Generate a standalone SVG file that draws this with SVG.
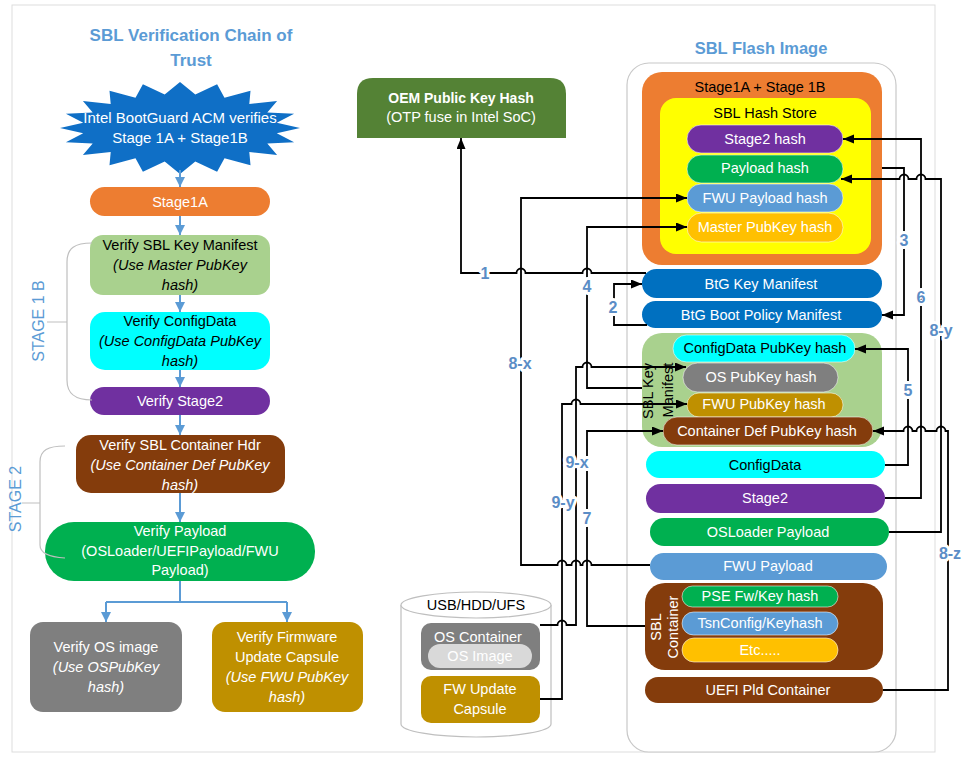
<svg xmlns="http://www.w3.org/2000/svg" width="964" height="767" viewBox="0 0 964 767">
<style>
text{font-family:"Liberation Sans",Arial,sans-serif;font-size:14.5px;text-anchor:middle;dominant-baseline:central}
.w{fill:#fff}.k{fill:#000}.i{font-style:italic}
.title{font-weight:bold;font-size:17px;fill:#5B9BD5}
.stg{font-size:16px;fill:#5B9BD5}
.lbl{font-weight:bold;font-size:16px;fill:#5B8DC6;stroke:#fff;stroke-width:6px;paint-order:stroke;stroke-linejoin:round}
.cn{fill:none;stroke:#000;stroke-width:1.8}
.bl{fill:none;stroke:#5B9BD5;stroke-width:2}
.br{fill:none;stroke:#BFBFBF;stroke-width:1.2}
.pl{stroke:#fff;stroke-opacity:.55;stroke-width:1}
</style>
<defs>
<marker id="ah" markerUnits="userSpaceOnUse" markerWidth="12" markerHeight="10" refX="11" refY="4.5" orient="auto"><path d="M0,0 L11,4.5 L0,9 z" fill="#000"/></marker>
<marker id="bh" markerUnits="userSpaceOnUse" markerWidth="11" markerHeight="10" refX="10" refY="5" orient="auto"><path d="M0,0 L10,5 L0,10 z" fill="#5B9BD5"/></marker>
</defs>
<rect x="0" y="0" width="964" height="767" fill="#fff"/>
<rect x="12" y="5" width="923" height="747" fill="none" stroke="#DDDDDD" stroke-width="1"/>

<!-- Left column -->
<g id="title-left"><text class="title" x="191" y="35">SBL Verification Chain of</text><text class="title" x="191" y="60">Trust</text></g>
<g id="bootguard">
<polygon fill="#0F6FC6" points="300,128 276.8,122.7 294.1,113.8 267.3,112.6 277.1,101 249.3,104 250.5,90.8 224.5,97.7 217.1,84.2 195.3,94.4 180,82 164.7,94.4 142.9,84.2 135.5,97.7 109.5,90.8 110.7,104 82.9,101 92.7,112.6 65.9,113.8 83.2,122.7 60,128 83.2,133.3 65.9,142.2 92.7,143.4 82.9,155 110.7,152 109.5,165.2 135.5,158.3 142.9,171.8 164.7,161.6 180,174 195.3,161.6 217.1,171.8 224.5,158.3 250.5,165.2 249.3,152 277.1,155 267.3,143.4 294.1,142.2 276.8,133.3"/>
<text class="w" x="180" y="117" style="font-size:15px">Intel BootGuard ACM verifies</text>
<text class="w" x="180" y="137" style="font-size:15px">Stage 1A + Stage1B</text>
</g>
<g id="l-stage1a"><rect x="90" y="187" width="180" height="29" rx="14.5" fill="#ED7D31"/><text class="w" x="180" y="202">Stage1A</text></g>
<g id="l-keymanifest"><rect x="90" y="235" width="180" height="60" rx="13" fill="#A9D18E"/><text class="k" x="180" y="245">Verify SBL Key Manifest</text><text class="k i" x="180" y="265">(Use Master PubKey</text><text class="k i" x="180" y="285">hash)</text></g>
<g id="l-configdata"><rect x="90" y="312" width="180" height="58" rx="15" fill="#00FFFF"/><text class="k" x="180" y="321">Verify ConfigData</text><text class="k i" x="180" y="341">(Use ConfigData PubKey</text><text class="k i" x="180" y="361">hash)</text></g>
<g id="l-stage2"><rect x="90" y="387" width="180" height="28" rx="14" fill="#7030A0"/><text class="w" x="180" y="401">Verify Stage2</text></g>
<g id="l-container"><rect x="76" y="435" width="209" height="58" rx="15" fill="#843C0C"/><text class="w" x="180" y="445">Verify SBL Container Hdr</text><text class="w i" x="180" y="465">(Use Container Def PubKey</text><text class="w i" x="180" y="485">hash)</text></g>
<g id="l-payload"><rect x="45" y="522" width="270" height="59" rx="29" fill="#00B050"/><text class="w" x="180" y="531">Verify Payload</text><text class="w" x="180" y="551">(OSLoader/UEFIPayload/FWU</text><text class="w" x="180" y="570">Payload)</text></g>
<g id="l-osimage"><rect x="30" y="622" width="152" height="90" rx="13" fill="#7F7F7F"/><text class="w" x="106" y="647">Verify OS image</text><text class="w i" x="106" y="667">(Use OSPubKey</text><text class="w i" x="106" y="687">hash)</text></g>
<g id="l-fwcapsule"><rect x="212" y="622" width="151" height="90" rx="13" fill="#BF9000"/><text class="w" x="287" y="637">Verify Firmware</text><text class="w" x="287" y="657">Update Capsule</text><text class="w i" x="287" y="677">(Use FWU PubKey</text><text class="w i" x="287" y="697">hash)</text></g>
<g id="stage1b-bracket"><path class="br" d="M92,243 C75,243 67,248 67,262 L67,380 C67,394 75,400 92,400 M47,322 L67,322"/><text class="stg" transform="translate(38,321) rotate(-90)">STAGE 1 B</text></g>
<g id="stage2-bracket"><path class="br" d="M65,446 C48,446 40,450 40,462 L40,545 C40,553 48,557 65,558 M22,503 L40,503"/><text class="stg" transform="translate(15,499) rotate(-90)">STAGE 2</text></g>

<!-- Middle -->
<g id="oem-hash"><path d="M357,138 L357,94 Q357,78 373,78 L550,78 Q566,78 566,94 L566,138 Z" fill="#548235"/><text class="w" x="461" y="98" style="font-weight:bold;font-size:14px">OEM Public Key Hash</text><text class="w" x="461" y="117">(OTP fuse in Intel SoC)</text></g>
<g id="storage"><path d="M401,605 L401,724 A75,13 0 0 0 551,724 L551,605" fill="#fff" stroke="#BFBFBF" stroke-width="1.2"/><ellipse cx="476" cy="605" rx="75" ry="13" fill="#fff" stroke="#BFBFBF" stroke-width="1.2"/><text class="k" x="476" y="605">USB/HDD/UFS</text></g>
<g id="os-container"><rect x="421" y="623" width="119" height="47" rx="10" fill="#7F7F7F"/><text class="w" x="478" y="637">OS Container</text><rect x="428" y="644" width="104" height="24" rx="12" fill="#D9D9D9"/><text class="w" x="480" y="656">OS Image</text></g>
<g id="fw-capsule"><rect x="421" y="676" width="119" height="47" rx="10" fill="#BF9000"/><text class="w" x="480" y="689">FW Update</text><text class="w" x="480" y="709">Capsule</text></g>

<!-- Flash image -->
<g id="flash-image"><text class="title" style="font-size:16.5px" x="761" y="48">SBL Flash Image</text><rect x="627" y="63" width="269" height="689" rx="22" fill="#fff" stroke="#C8C8C8" stroke-width="1.2"/></g>
<g id="stage1ab"><rect x="642" y="72" width="240" height="193" rx="20" fill="#ED7D31"/><text class="k" x="760" y="87">Stage1A + Stage 1B</text></g>
<g id="hash-store"><rect x="660" y="98" width="211" height="156" rx="16" fill="#FFFF00"/><text class="k" x="765" y="113">SBL Hash Store</text></g>
<g id="stage2-hash"><rect class="pl" x="687" y="125" width="156" height="28" rx="14" fill="#7030A0"/><text class="w" x="765" y="139">Stage2 hash</text></g>
<g id="payload-hash"><rect class="pl" x="687" y="155" width="156" height="28" rx="14" fill="#00B050"/><text class="w" x="765" y="168">Payload hash</text></g>
<g id="fwu-payload-hash"><rect class="pl" x="687" y="184" width="156" height="28" rx="14" fill="#5B9BD5"/><text class="w" x="765" y="198">FWU Payload hash</text></g>
<g id="master-pubkey-hash"><rect class="pl" x="687" y="213" width="156" height="29" rx="14.5" fill="#FFC000"/><text class="w" x="765" y="227">Master PubKey hash</text></g>
<g id="btg-key-manifest"><rect x="642" y="269" width="240" height="29" rx="14.5" fill="#0070C0"/><text class="w" x="761" y="284">BtG Key Manifest</text></g>
<g id="btg-boot-policy"><rect x="642" y="301" width="240" height="27" rx="13.5" fill="#0070C0"/><text class="w" x="761" y="315">BtG Boot Policy Manifest</text></g>
<g id="sbl-key-manifest"><rect x="642" y="333" width="240" height="114" rx="20" fill="#A9D18E"/><text class="k" transform="translate(648,391) rotate(-90)">SBL Key</text><text class="k" transform="translate(668,390) rotate(-90)">Manifest</text></g>
<g id="configdata-pubkey-hash"><rect class="pl" x="673" y="335" width="182" height="27" rx="13.5" fill="#00FFFF"/><text class="k" x="765" y="348">ConfigData PubKey hash</text></g>
<g id="os-pubkey-hash"><rect class="pl" x="683" y="363" width="155" height="29" rx="14.5" fill="#7F7F7F"/><text class="w" x="761" y="377">OS PubKey hash</text></g>
<g id="fwu-pubkey-hash"><rect class="pl" x="687" y="393" width="156" height="24" rx="12" fill="#BF9000"/><text class="w" x="764" y="404">FWU PubKey hash</text></g>
<g id="container-def-pubkey-hash"><rect class="pl" x="663" y="417" width="210" height="28" rx="14" fill="#843C0C"/><text class="w" x="767" y="431">Container Def PubKey hash</text></g>
<g id="configdata"><rect x="646" y="451" width="239" height="27" rx="13.5" fill="#00FFFF"/><text class="k" x="765" y="465">ConfigData</text></g>
<g id="stage2"><rect x="646" y="484" width="239" height="29" rx="14.5" fill="#7030A0"/><text class="w" x="765" y="498">Stage2</text></g>
<g id="osloader-payload"><rect x="650" y="518" width="239" height="28" rx="14" fill="#00B050"/><text class="w" x="768" y="532">OSLoader Payload</text></g>
<g id="fwu-payload"><rect x="650" y="553" width="237" height="27" rx="13.5" fill="#5B9BD5"/><text class="w" x="768" y="566">FWU Payload</text></g>
<g id="sbl-container"><rect x="645" y="583" width="238" height="87" rx="20" fill="#843C0C"/><text class="w" transform="translate(656,627) rotate(-90)">SBL</text><text class="w" transform="translate(673,627) rotate(-90)">Container</text></g>
<g id="pse-hash"><rect class="pl" x="682" y="586" width="156" height="21" rx="10.5" fill="#00B050"/><text class="w" x="760" y="596">PSE Fw/Key hash</text></g>
<g id="tsnconfig-hash"><rect class="pl" x="682" y="612" width="156" height="23" rx="11.5" fill="#5B9BD5"/><text class="w" x="760" y="623">TsnConfig/Keyhash</text></g>
<g id="etc"><rect class="pl" x="682" y="638" width="156" height="24" rx="12" fill="#FFC000"/><text class="w" x="760" y="650">Etc.....</text></g>
<g id="uefi-pld-container"><rect x="645" y="677" width="238" height="26" rx="13" fill="#843C0C"/><text class="w" x="768" y="690">UEFI Pld Container</text></g>

<!-- Connectors -->
<g id="connectors">
<path class="bl" marker-end="url(#bh)" d="M180,170 L180,187"/>
<path class="bl" marker-end="url(#bh)" d="M180,216 L180,235"/>
<path class="bl" marker-end="url(#bh)" d="M180,295 L180,312"/>
<path class="bl" marker-end="url(#bh)" d="M180,370 L180,387"/>
<path class="bl" marker-end="url(#bh)" d="M180,415 L180,435"/>
<path class="bl" marker-end="url(#bh)" d="M180,493 L180,522"/>
<path class="bl" d="M180,581 L180,602 M106,602 L287,602"/>
<path class="bl" marker-end="url(#bh)" d="M106,602 L106,622"/>
<path class="bl" marker-end="url(#bh)" d="M287,602 L287,622"/>

<path class="cn" marker-end="url(#ah)" d="M646,273 L591.5,273 A4.5,4.5 0 0 0 582.5,273 L525.5,273 A4.5,4.5 0 0 0 516.5,273 L461,273 L461,138"/>
<path class="cn" marker-end="url(#ah)" d="M647,325 L614,325 L614,284 L642,284"/>
<path class="cn" marker-end="url(#ah)" d="M882,168 L904,168 L904,315 L882,315"/>
<path class="cn" marker-end="url(#ah)" d="M642,388 L587,388 L587,227 L687,227"/>
<path class="cn" marker-end="url(#ah)" d="M885,465 L908,465 L908,349 L855,349"/>
<path class="cn" marker-end="url(#ah)" d="M885,498 L921,498 L921,139 L843,139"/>
<path class="cn" marker-end="url(#ah)" d="M645,626 L587,626 L587,431 L663,431"/>
<path class="cn" marker-end="url(#ah)" d="M650,565 L591.5,565 A4.5,4.5 0 0 0 582.5,565 L580.5,565 A4.5,4.5 0 0 0 571.5,565 L566.5,565 A4.5,4.5 0 0 0 557.5,565 L521,565 L521,198 L687,198"/>
<path class="cn" marker-end="url(#ah)" d="M889,532 L941,532 L941,179 L925.5,179 A4.5,4.5 0 0 0 916.5,179 L908.5,179 A4.5,4.5 0 0 0 899.5,179 L841,179"/>
<path class="cn" marker-end="url(#ah)" d="M883,690 L948,690 L948,431 L945.5,431 A4.5,4.5 0 0 0 936.5,431 L925.5,431 A4.5,4.5 0 0 0 916.5,431 L912.5,431 A4.5,4.5 0 0 0 903.5,431 L873,431"/>
<path class="cn" marker-end="url(#ah)" d="M540,625 L557.5,625 A4.5,4.5 0 0 1 566.5,625 L576,625 L576,367 L582.5,367 A4.5,4.5 0 0 1 591.5,367 L686,367"/>
<path class="cn" marker-end="url(#ah)" d="M540,699 L562,699 L562,404 L571.5,404 A4.5,4.5 0 0 1 580.5,404 L687,404"/>

<text class="lbl" x="485" y="273">1</text>
<text class="lbl" x="613" y="307">2</text>
<text class="lbl" x="904" y="240">3</text>
<text class="lbl" x="587" y="286">4</text>
<text class="lbl" x="908" y="390">5</text>
<text class="lbl" x="921" y="297">6</text>
<text class="lbl" x="587" y="518">7</text>
<text class="lbl" x="520" y="363">8-x</text>
<text class="lbl" x="941" y="330">8-y</text>
<text class="lbl" x="950" y="553">8-z</text>
<text class="lbl" x="577" y="462">9-x</text>
<text class="lbl" x="563" y="502">9-y</text>
</g>
</svg>
